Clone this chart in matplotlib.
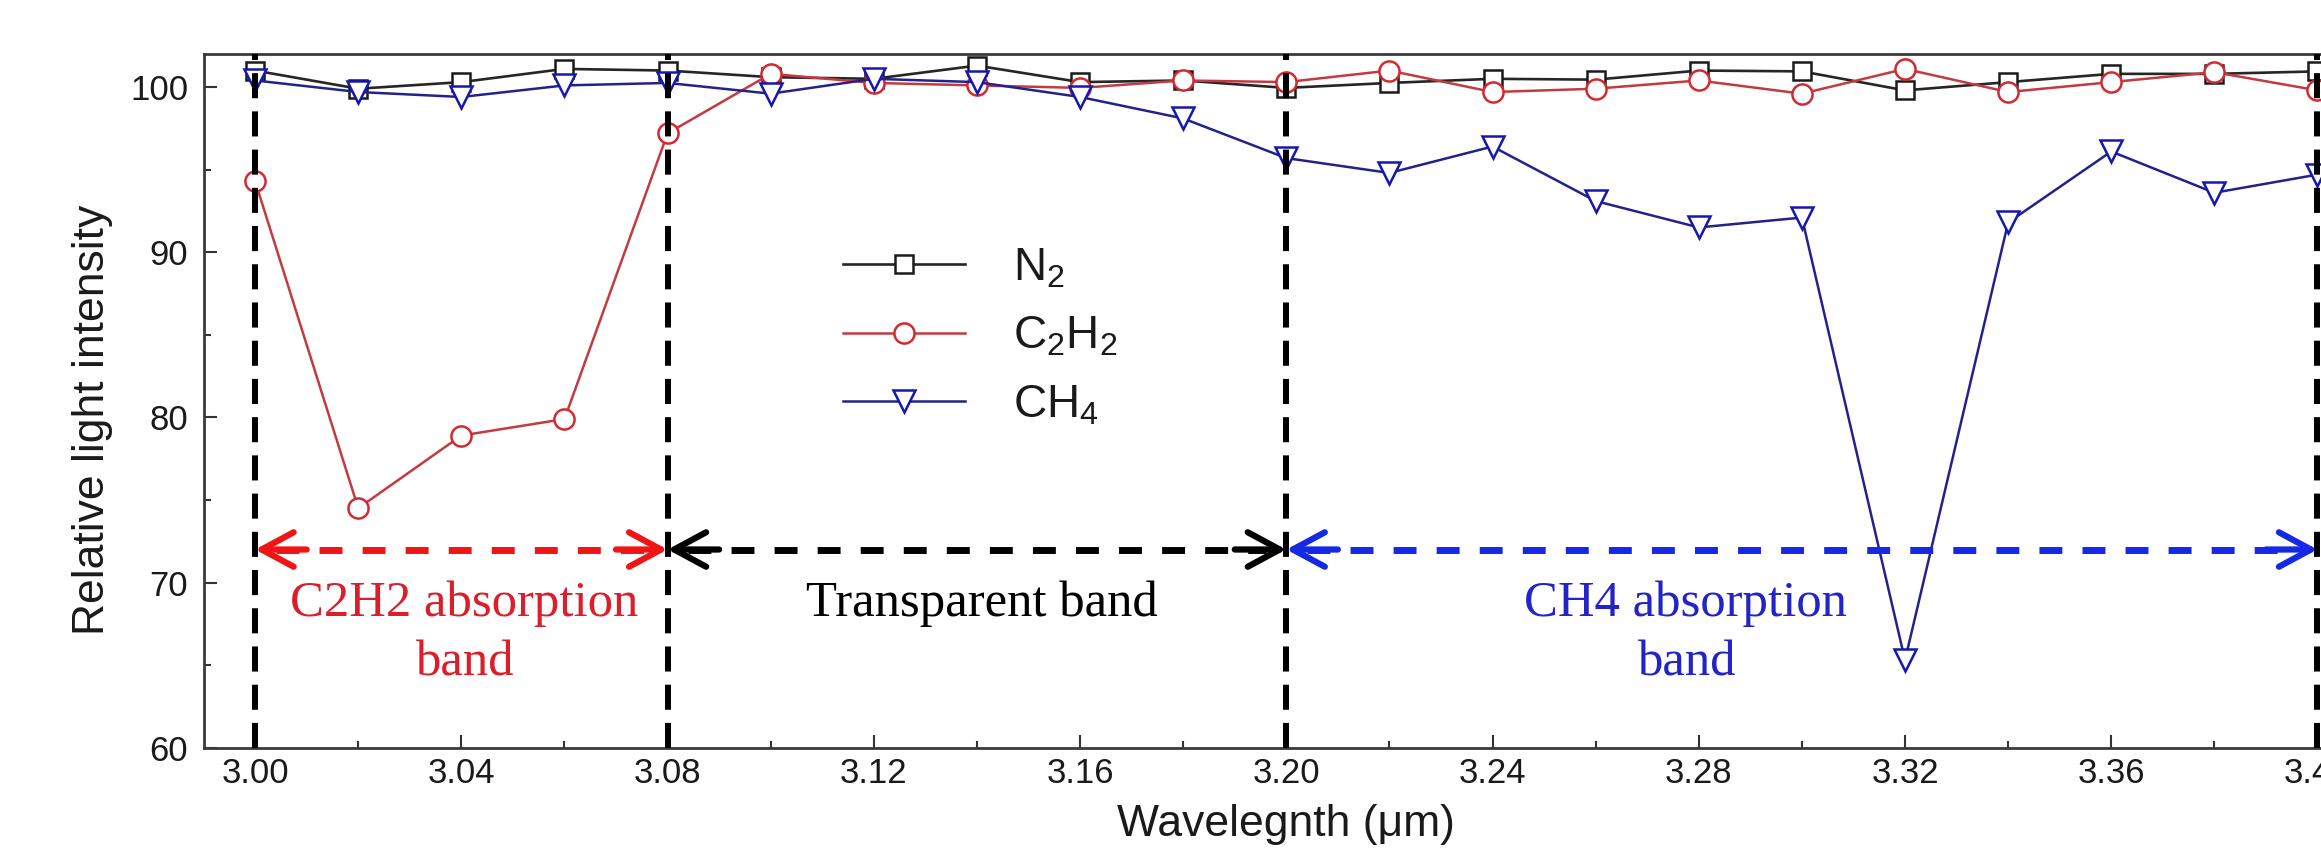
import matplotlib
matplotlib.use("Agg")
import matplotlib.pyplot as plt
from matplotlib.ticker import MultipleLocator, FormatStrFormatter

plt.rcParams['font.family'] = ['Liberation Sans', 'DejaVu Sans']
plt.rcParams['mathtext.fontset'] = 'custom'
plt.rcParams['mathtext.rm'] = 'Liberation Sans'
plt.rcParams['mathtext.it'] = 'Liberation Sans'

# ---------------- data ----------------
wavelength = [3.00, 3.02, 3.04, 3.06, 3.08, 3.10, 3.12, 3.14, 3.16, 3.18, 3.20,
              3.22, 3.24, 3.26, 3.28, 3.30, 3.32, 3.34, 3.36, 3.38, 3.40]
n2 = [101.0, 99.9, 100.3, 101.1, 101.0, 100.6, 100.5, 101.3, 100.3, 100.4, 99.95,
      100.25, 100.5, 100.45, 101.0, 100.95, 99.8, 100.3, 100.8, 100.8, 100.95]
c2h2 = [94.3, 74.5, 78.9, 79.9, 97.2, 100.8, 100.25, 100.1, 99.95, 100.4, 100.3,
        101.0, 99.7, 99.9, 100.4, 99.6, 101.1, 99.7, 100.3, 100.9, 99.8]
ch4 = [100.4, 99.7, 99.4, 100.1, 100.25, 99.6, 100.5, 100.3, 99.4, 98.1, 95.7,
       94.8, 96.4, 93.1, 91.5, 92.1, 65.3, 91.8, 96.1, 93.6, 94.7]
series_labels = [r'N$_2$', r'C$_2$H$_2$', r'CH$_4$']

band_edges = [3.00, 3.08, 3.20, 3.40]
arrow_level = 72
band_texts = [("C2H2 absorption", "band"), ("Transparent band", ""), ("CH4 absorption", "band")]
text_x = [3.0405, 3.141, 3.2775]
text_y = [67.95, 64.4]

x_ticks = [3.00, 3.04, 3.08, 3.12, 3.16, 3.20, 3.24, 3.28, 3.32, 3.36, 3.40]
y_ticks = [60, 70, 80, 90, 100]

# ---------------- figure ----------------
fig = plt.figure(figsize=(23.21, 8.51), dpi=100)
ax = fig.add_axes([0.0877, 0.1214, 0.933, 0.8151])

ms = 14.5
mew = 1.8
ax.plot(wavelength, n2, color='#262626', lw=1.9, marker='s', ms=ms - 1.5, mew=mew,
        mfc='white', mec='#1a1a1a', label=series_labels[0], zorder=3)
ax.plot(wavelength, c2h2, color='#c33a40', lw=1.8, marker='o', ms=ms, mew=mew,
        mfc='white', mec='#d22a30', label=series_labels[1], zorder=3)
ax.plot(wavelength, ch4, color='#22228a', lw=1.8, marker='v', ms=ms + 1, mew=mew,
        mfc='white', mec='#1616b0', label=series_labels[2], zorder=3)

# vertical dashed band boundaries
for xe in band_edges:
    ax.plot([xe, xe], [60, 102], color='black', lw=4.3, dashes=(4.2, 2.2), zorder=4,
            solid_capstyle='butt', dash_capstyle='butt')

# dashed double arrows
arrow_colors = ['#f01414', '#000000', '#1428e6']
head = 0.004
for i, col in enumerate(arrow_colors):
    x0, x1 = band_edges[i], band_edges[i + 1]
    ax.plot([x0 + head, x1 - head], [arrow_level, arrow_level], color=col, lw=5,
            dashes=(3.3, 2.9), dash_capstyle='butt', zorder=5)
    for tip, tail in ((x0, x0 + 0.01), (x1, x1 - 0.01)):
        ax.annotate('', xy=(tip, arrow_level), xytext=(tail, arrow_level),
                    arrowprops=dict(arrowstyle='->,head_length=1.15,head_width=0.62',
                                    color=col, lw=4.5, shrinkA=0, shrinkB=0,
                                    mutation_scale=20),
                    zorder=5)

text_colors = ['#dc1e2a', '#000000', '#2323c8']
for i, (l1, l2) in enumerate(band_texts):
    ax.text(text_x[i], text_y[0], l1, ha='center', va='baseline', fontsize=36.5,
            family='Liberation Serif', color=text_colors[i], zorder=6)
    if l2:
        ax.text(text_x[i], text_y[1], l2, ha='center', va='baseline', fontsize=36.5,
                family='Liberation Serif', color=text_colors[i], zorder=6)

# axes styling
ax.set_xlim(2.99, 3.41)
ax.set_ylim(60, 102)
ax.set_xticks(x_ticks)
ax.set_yticks(y_ticks)
ax.xaxis.set_major_formatter(FormatStrFormatter('%.2f'))
ax.xaxis.set_minor_locator(MultipleLocator(0.02))
ax.yaxis.set_minor_locator(MultipleLocator(5))
ax.tick_params(which='both', direction='in', top=False, right=False, width=1.5,
               color='#333333', labelsize=25, labelcolor='#1a1a1a')
ax.tick_params(which='major', length=9.5)
ax.tick_params(which='minor', length=5)
ax.tick_params(axis='y', pad=11)
ax.tick_params(axis='x', pad=7)
for s in ['left', 'bottom', 'top']:
    ax.spines[s].set_linewidth(2)
    ax.spines[s].set_color('#3a3a3a')
ax.spines['right'].set_visible(False)

ax.set_xlabel('Wavelegnth (μm)', fontsize=32, labelpad=10, color='#1a1a1a')
ax.set_ylabel('Relative light intensity', fontsize=32, color='#1a1a1a')
ax.yaxis.set_label_coords(-0.042, 0.472)

leg = ax.legend(loc='upper left', bbox_to_anchor=(843 / 2321, (851 - 246) / 851),
                bbox_transform=fig.transFigure, frameon=False, fontsize=33,
                handlelength=2.66, handletextpad=1.05, labelspacing=0.54,
                borderpad=0, borderaxespad=0)
for t in leg.get_texts():
    t.set_color('#1a1a1a')

fig.savefig('out.png', dpi=100)
